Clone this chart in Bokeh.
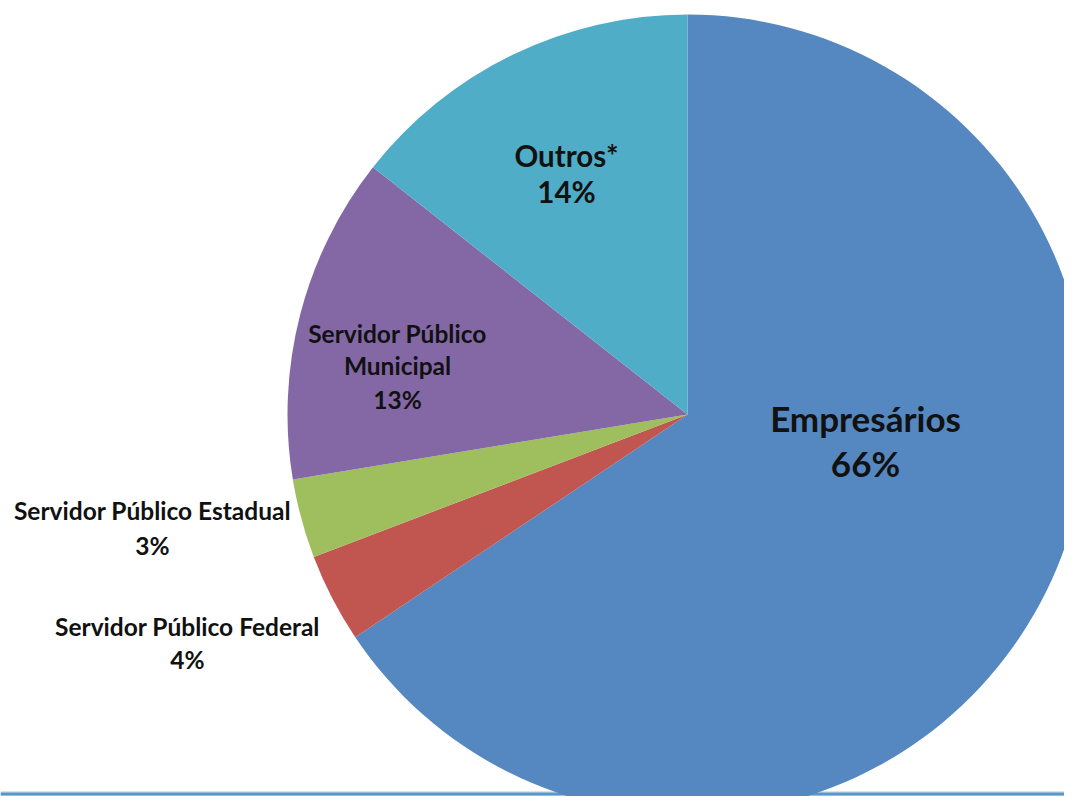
import math
from bokeh.plotting import figure
from bokeh.models import Range1d, Span, ColumnDataSource
from bokeh.core.properties import value
from bokeh.embed import file_html
from bokeh.resources import INLINE

# ---- data ----
categories = ["Empresários", "Servidor Público Federal", "Servidor Público Estadual",
              "Servidor Público Municipal", "Outros*"]
shares = [65.6, 3.6, 3.2, 13.2, 14.4]
colors = ["#5587c0", "#c1554f", "#9fbe5d", "#8468a6", "#4fadc8"]

# label layout (screen px of the 1080x812 page), line breaks and sizes
label_lines = [["Empresários"], ["Servidor Público Federal"], ["Servidor Público Estadual"],
               ["Servidor Público", "Municipal"], ["Outros*"]]
label_x = [865, 187, 152, 397, 566]
label_y = [[417, 462], [626, 659], [510, 545], [333, 365, 399], [155, 191]]
label_size = ["35px", "24.5px", "24.5px", "24.5px", "29.5px"]

W, H = 1064, 796
PAGE_H = 812

p = figure(width=W, height=H, output_backend="svg", toolbar_location=None,
           x_range=Range1d(0, W), y_range=Range1d(PAGE_H - H, PAGE_H),
           min_border=0, outline_line_color=None)
p.axis.visible = False
p.xgrid.visible = False
p.ygrid.visible = False
p.background_fill_color = "white"
p.border_fill_color = "white"

# decorative bottom rule behind the pie
p.add_layout(Span(location=PAGE_H - 793.5, dimension="width", line_color="#a9cde3",
                  line_width=5, level="underlay"))
p.add_layout(Span(location=PAGE_H - 793.5, dimension="width", line_color="#5f95c2",
                  line_width=2.5, level="underlay"))

cx, cy, r = 687, PAGE_H - 414, 400
total = sum(shares)
starts, ends = [], []
cum = 0.0
for s in shares:
    starts.append(math.pi / 2 - 2 * math.pi * cum / total)
    cum += s
    ends.append(math.pi / 2 - 2 * math.pi * cum / total)

src = ColumnDataSource(dict(x=[cx] * len(shares), y=[cy] * len(shares), start=starts,
                            end=ends, color=colors))
p.wedge(x="x", y="y", radius=r, start_angle="start", end_angle="end", direction="clock",
        fill_color="color", line_color=None, source=src)

for i, cat in enumerate(categories):
    lines = label_lines[i] + [f"{round(shares[i])}%"]
    for ln, yy in zip(lines, label_y[i]):
        p.text(x=[label_x[i]], y=[PAGE_H - yy], text=[ln], text_align="center",
               text_baseline="middle", text_font=value("Lato"), text_font_style="bold",
               text_font_size=label_size[i], text_color="#111111")

open("out.html", "w").write(file_html(p, INLINE))
